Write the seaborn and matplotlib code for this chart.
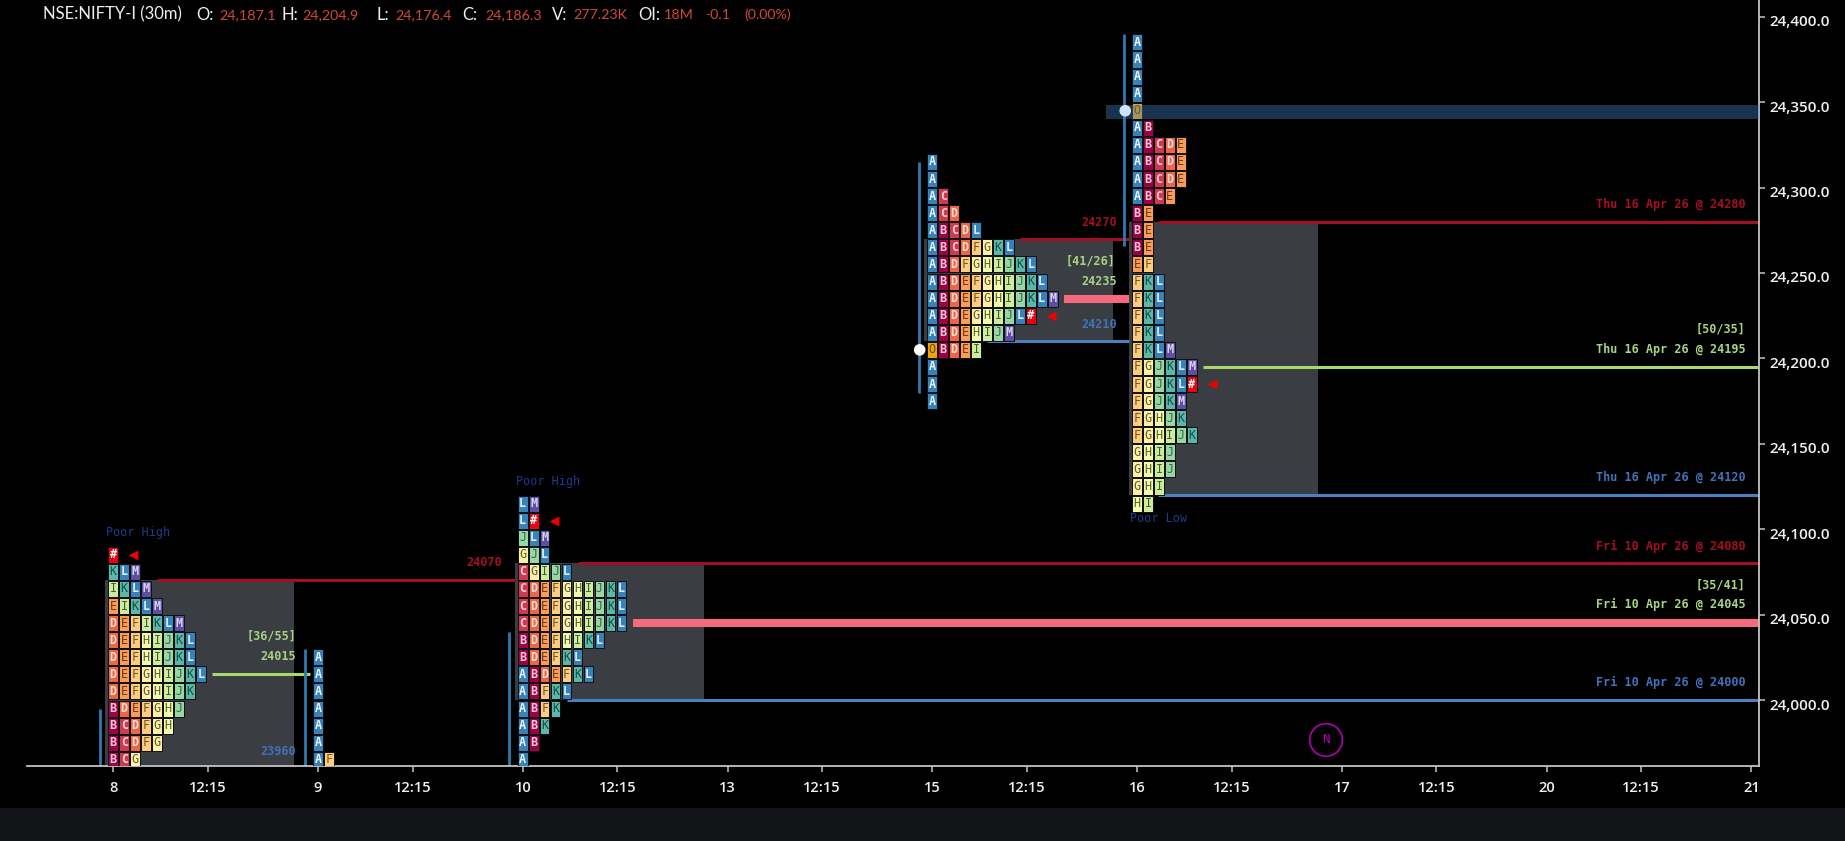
import numpy as np
import pandas as pd
import matplotlib
matplotlib.use("Agg")
import matplotlib.pyplot as plt
from matplotlib.path import Path
from matplotlib.patches import Rectangle
from matplotlib.transforms import ScaledTranslation
import seaborn as sns

# ---- market profile rows, (low price of the list -> high), letters per row
day8_prices = [23965, 23975, 23985, 23995, 24005, 24015, 24025, 24035, 24045, 24055, 24065, 24075, 24085]
day8_rows = ["BCG", "BCDFG", "BCDFGH", "BDEFGHJ", "DEFGHIJK", "DEFGHIJKL", "DEFHIJKL", "DEFHIJKL",
             "DEFIKLM", "EIKLM", "IKLM", "KLM", "#"]
day9_prices = [23965, 23975, 23985, 23995, 24005, 24015, 24025]
day9_rows = ["AF", "A", "A", "A", "A", "A", "A"]
day10_prices = [23965, 23975, 23985, 23995, 24005, 24015, 24025, 24035, 24045, 24055, 24065, 24075,
                24085, 24095, 24105, 24115]
day10_rows = ["A", "AB", "ABK", "ABFK", "ABFKL", "ABDEFKL", "BDEFKL", "BDEFHIKL", "CDEFGHIJKL",
              "CDEFGHIJKL", "CDEFGHIJKL", "CGIJL", "GJL", "JLM", "L#", "LM"]
day15_prices = [24175, 24185, 24195, 24205, 24215, 24225, 24235, 24245, 24255, 24265, 24275, 24285,
                24295, 24305, 24315]
day15_rows = ["A", "A", "A", "OBDEI", "ABDEHIJM", "ABDEGHIJL#", "ABDEFGHIJKLM", "ABDEFGHIJKL",
              "ABDFGHIJKL", "ABCDFGKL", "ABCDL", "ACD", "AC", "A", "A"]
day16_prices = [24115, 24125, 24135, 24145, 24155, 24165, 24175, 24185, 24195, 24205, 24215, 24225,
                24235, 24245, 24255, 24265, 24275, 24285, 24295, 24305, 24315, 24325, 24335, 24345,
                24355, 24365, 24375, 24385]
day16_rows = ["HI", "GHI", "GHIJ", "GHIJ", "FGHIJK", "FGHJK", "FGJKM", "FGJKL#", "FGJKLM", "FKLM",
              "FKL", "FKL", "FKL", "FKL", "EF", "BE", "BE", "BE", "ABCE", "ABCDE", "ABCDE", "ABCDE",
              "AB", "O", "A", "A", "A", "A"]
day_starts = [0, 13, 26, 52, 65]

# ---- levels
value_areas = [(-0.5, 11.5, 23960, 24070), (25.5, 37.5, 24000, 24080),
               (51.5, 63.5, 24210, 24270), (64.5, 76.5, 24120, 24280)]
vah_lines = [(2.75, 25.5, 24070), (29.5, 104.5, 24080), (57.55, 64.5, 24270), (66.3, 104.5, 24280)]
val_lines = [(28.8, 104.5, 24000), (55.5, 64.5, 24210), (66.3, 104.5, 24120)]
poc_lines = [(6.25, 12.5, 24015), (69.2, 104.5, 24195)]
naked_poc = [(33.0, 104.5, 24045), (60.35, 64.5, 24235)]
ib_lines = [(-0.85, 23950, 23995), (12.15, 23950, 24030), (25.15, 23950, 24040),
            (51.15, 24180, 24315), (64.15, 24266, 24390)]
open_dots = pd.DataFrame({"bar": [51.2, 64.25], "price": [24205, 24345], "tone": ["open", "now"]})
band_prices = (24340, 24348.5)
band_start = 63.0

labels = [
    (103.65, 24290.7, "Thu 16 Apr 26 @ 24280", "#a50f23", "right"),
    (103.65, 24218.0, "[50/35]", "#a6d483", "right"),
    (103.65, 24205.9, "Thu 16 Apr 26 @ 24195", "#a6d483", "right"),
    (103.65, 24130.7, "Thu 16 Apr 26 @ 24120", "#4272b8", "right"),
    (103.65, 24090.7, "Fri 10 Apr 26 @ 24080", "#a50f23", "right"),
    (103.65, 24067.9, "[35/41]", "#a6d483", "right"),
    (103.65, 24056.5, "Fri 10 Apr 26 @ 24045", "#a6d483", "right"),
    (103.65, 24011.0, "Fri 10 Apr 26 @ 24000", "#4272b8", "right"),
    (10.06, 24038.0, "[36/55]", "#a6d483", "center"),
    (11.6, 24026.0, "24015", "#a6d483", "right"),
    (11.6, 23970.7, "23960", "#4272b8", "right"),
    (24.66, 24081.0, "24070", "#a50f23", "right"),
    (63.7, 24280.4, "24270", "#a50f23", "right"),
    (62.07, 24257.6, "[41/26]", "#a6d483", "center"),
    (63.7, 24245.9, "24235", "#a6d483", "right"),
    (63.7, 24220.7, "24210", "#4272b8", "right"),
]
poor_labels = [(-0.48, 24098.5, "Poor High"), (25.55, 24128.4, "Poor High"), (64.55, 24106.7, "Poor Low")]

x_ticks = [0, 6, 13, 19, 26, 32, 39, 45, 52, 58, 65, 71, 78, 84, 91, 97, 104]
x_labels = ["8", "12:15", "9", "12:15", "10", "12:15", "13", "12:15", "15", "12:15", "16", "12:15",
            "17", "12:15", "20", "12:15", "21"]
y_ticks = [24000, 24050, 24100, 24150, 24200, 24250, 24300, 24350, 24400]

header = [
    (42.8, "NSE:NIFTY-I (30m)", "w"), (196, "O:", "w"), (219.4, "24,187.1", "r"), (281.4, "H:", "w"),
    (302.8, "24,204.9", "r"), (376.3, "L:", "w"), (395, "24,176.4", "r"), (462, "C:", "w"),
    (485, "24,186.3", "r"), (552, "V:", "w"), (573, "277.23K", "r"), (638, "OI:", "w"),
    (664, "18M", "r"), (705, "-0.1", "r"), (744, "(0.00%)", "r"),
]

cell_colors = ["#9e0142", "#d0384e", "#ee6445", "#fa9c58", "#fdcd7b", "#fff0a6", "#f2faac", "#ceec9d",
               "#98d6a4", "#5cb7a9", "#3682ba", "#5e4fa2"]

COL_STEP = 0.695
W, H = 1845, 841

sns.set_theme(style="white", rc={"axes.facecolor": "black", "figure.facecolor": "black"})
plt.rcParams["font.family"] = ["Open Sans", "DejaVu Sans"]
MONO = "DejaVu Sans Mono"

fig = plt.figure(figsize=(W / 100, H / 100), dpi=100, facecolor="black")
fig.add_artist(Rectangle((0, 0), 1, (H - 808) / H, transform=fig.transFigure, fc="#131417", ec="none"))
ax = fig.add_axes([27 / W, (H - 766) / H, (1759.3 - 27) / W, 766 / H], facecolor="black")

# cells table
profile_letters = "BCDEFGHIJKLM"
palette = dict(zip(profile_letters, cell_colors))
palette["A"] = palette["L"]
palette["O"] = "#f0a30a"
palette["#"] = "#ee0010"
ink = {"A": "#eaf3fb", "B": "#f7c6dc", "C": "#fbd3da", "D": "#fde0d4", "E": "#6e3a12", "F": "#6e5522",
       "G": "#5c5b33", "H": "#5a6030", "I": "#3e5c30", "J": "#2f6a48", "K": "#0f5048", "L": "#e2eefb",
       "M": "#dcd2f2", "O": "#6a4a00", "#": "#ffffff"}

records = []
for start, prices, rows in zip(day_starts, [day8_prices, day9_prices, day10_prices, day15_prices, day16_prices],
                               [day8_rows, day9_rows, day10_rows, day15_rows, day16_rows]):
    for price, row in zip(prices, rows):
        for col, letter in enumerate(row):
            records.append({"bar": start + col * COL_STEP, "price": price, "letter": letter})
cells = pd.DataFrame(records)

ax.set_xlim((27 - 113.3) / 15.75, (1759.3 - 113.3) / 15.75)
ax.set_ylim(24000 - 66 / 1.708, 24000 + 700 / 1.708)

for x0, x1, y0, y1 in value_areas:
    ax.add_patch(Rectangle((x0, y0), x1 - x0, y1 - y0, fc="#3a3d42", ec="none", zorder=1))

cell_marker = Path([(-0.3, -0.5), (0.3, -0.5), (0.3, 0.5), (-0.3, 0.5), (-0.3, -0.5)], closed=True)
sns.scatterplot(data=cells, x="bar", y="price", hue="letter", palette=palette, marker=cell_marker,
                s=133, linewidth=0.72, edgecolor="#101214", legend=False, ax=ax, zorder=3)
for rec in records:
    ax.text(rec["bar"], rec["price"], rec["letter"], family=MONO, fontsize=8.5,
            weight="bold" if rec["letter"] in "ABCDLM#" else "normal",
            color=ink[rec["letter"]], ha="center", va="center", zorder=4, clip_on=True)

# tail markers
tails = cells[cells["letter"] == "#"].assign(bar=lambda d: d["bar"] + 1.27)
sns.scatterplot(data=tails, x="bar", y="price", marker="<", s=50, color="#ee0000", linewidth=0,
                legend=False, ax=ax, zorder=5)

# levels
for x0, x1, y in vah_lines:
    ax.plot([x0, x1], [y, y], color="#a50f23", lw=2.2, solid_capstyle="butt", zorder=2)
for x0, x1, y in val_lines:
    ax.plot([x0, x1], [y, y], color="#4a80c0", lw=2.2, solid_capstyle="butt", zorder=2)
for x0, x1, y in poc_lines:
    ax.plot([x0, x1], [y, y], color="#a6d86e", lw=2.2, solid_capstyle="butt", zorder=2)
for x0, x1, y in naked_poc:
    ax.plot([x0, x1], [y, y], color="#f56a7d", lw=5.8, solid_capstyle="butt", zorder=2)
for x, y0, y1 in ib_lines:
    ax.plot([x, x], [y0, y1], color="#2e7ab0", lw=2.0, solid_capstyle="butt", zorder=2)

ax.axhspan(band_prices[0], band_prices[1], xmin=(band_start - ax.get_xlim()[0]) / np.ptp(ax.get_xlim()),
           xmax=1, fc="#417fc8", alpha=0.4, ec="none", zorder=5)
sns.scatterplot(data=open_dots, x="bar", y="price", hue="tone", palette={"open": "#ffffff", "now": "#cfe4fb"},
                s=70, linewidth=0, legend=False, ax=ax, zorder=6)

down = ax.transData + ScaledTranslation(0, -1.2 / 100, fig.dpi_scale_trans)
for x, y, text, color, ha in labels:
    ax.text(x, y, text, family=MONO, fontsize=8.5, weight="bold", color=color, ha=ha, va="center", zorder=7,
            transform=down)
for x, y, text in poor_labels:
    ax.text(x, y, text, family=MONO, fontsize=8.5, color="#1d3a8f", ha="left", va="center", zorder=7,
            transform=down)

# N marker
ax.scatter([77], [23976.6], s=(23.5) ** 2, facecolor="none", edgecolor="#b000b0", linewidth=1.2, zorder=7)
ax.text(77, 23976.6, "N", family=MONO, fontsize=9, color="#b000b0", ha="center", va="center", zorder=7)

# axes
for side in ("top", "left"):
    ax.spines[side].set_visible(False)
for side in ("bottom", "right"):
    ax.spines[side].set_color("#c4c4c4")
    ax.spines[side].set_linewidth(1.3)
ax.set_xlabel("")
ax.set_ylabel("")
ax.yaxis.tick_right()
ax.set_xticks(x_ticks)
ax.set_xticklabels(x_labels)
ax.set_yticks(y_ticks)
ax.set_yticklabels([f"{v:,.1f}" for v in y_ticks])
ax.tick_params(axis="x", colors="#f0f0f0", length=4, width=1.1, pad=6.5, labelsize=10.5, bottom=True, color="#c4c4c4")
ax.tick_params(axis="y", colors="#f0f0f0", length=4.3, width=1.1, pad=3, labelsize=11, right=True, color="#c4c4c4")
for lab in ax.get_xticklabels() + ax.get_yticklabels():
    lab.set_fontweight("semibold")
shift = ScaledTranslation(0, -4 / 100, fig.dpi_scale_trans)
for lab in ax.get_yticklabels():
    lab.set_transform(lab.get_transform() + shift)

# header
for x_px, text, tone in header:
    fig.text(x_px / W, 1 - 14.7 / H, text, family="Lato", fontsize=12 if tone == "w" else 10.3,
             color="#f0f0f0" if tone == "w" else "#d0483a", ha="left", va="center", weight="normal")

fig.savefig("out.png", dpi=100, facecolor=fig.get_facecolor())
